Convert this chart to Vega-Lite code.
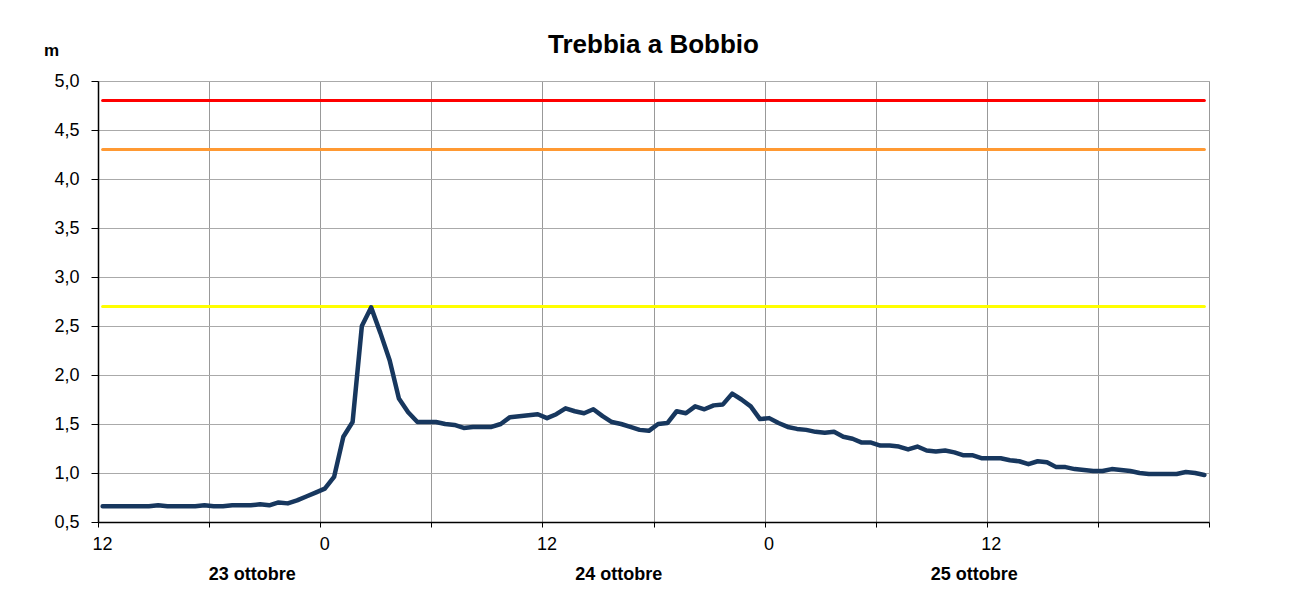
{
  "$schema": "https://vega.github.io/schema/vega-lite/v6.json",
  "width": 1111,
  "height": 441,
  "autosize": {"type": "none"},
  "padding": {"left": 98, "top": 81, "right": 83, "bottom": 70},
  "background": "white",
  "title": {
    "text": "Trebbia a Bobbio",
    "font": "Liberation Sans",
    "fontSize": 26,
    "fontWeight": "bold",
    "color": "#000000",
    "anchor": "middle",
    "offset": 4,
    "dy": 21
  },
  "datasets": {
    "livello": [
      {"ore": 0.25, "m": 0.66}, {"ore": 0.75, "m": 0.66}, {"ore": 1.25, "m": 0.66}, {"ore": 1.75, "m": 0.66},
      {"ore": 2.25, "m": 0.66}, {"ore": 2.75, "m": 0.66}, {"ore": 3.25, "m": 0.67}, {"ore": 3.75, "m": 0.66},
      {"ore": 4.25, "m": 0.66}, {"ore": 4.75, "m": 0.66}, {"ore": 5.25, "m": 0.66}, {"ore": 5.75, "m": 0.67},
      {"ore": 6.25, "m": 0.66}, {"ore": 6.75, "m": 0.66}, {"ore": 7.25, "m": 0.67}, {"ore": 7.75, "m": 0.67},
      {"ore": 8.25, "m": 0.67}, {"ore": 8.75, "m": 0.68}, {"ore": 9.25, "m": 0.67}, {"ore": 9.75, "m": 0.70},
      {"ore": 10.25, "m": 0.69}, {"ore": 10.75, "m": 0.72}, {"ore": 11.25, "m": 0.76}, {"ore": 11.75, "m": 0.80},
      {"ore": 12.25, "m": 0.84}, {"ore": 12.75, "m": 0.96}, {"ore": 13.25, "m": 1.37}, {"ore": 13.75, "m": 1.52},
      {"ore": 14.25, "m": 2.50}, {"ore": 14.75, "m": 2.69}, {"ore": 15.25, "m": 2.43}, {"ore": 15.75, "m": 2.15},
      {"ore": 16.25, "m": 1.76}, {"ore": 16.75, "m": 1.62}, {"ore": 17.25, "m": 1.52}, {"ore": 17.75, "m": 1.52},
      {"ore": 18.25, "m": 1.52}, {"ore": 18.75, "m": 1.50}, {"ore": 19.25, "m": 1.49}, {"ore": 19.75, "m": 1.46},
      {"ore": 20.25, "m": 1.47}, {"ore": 20.75, "m": 1.47}, {"ore": 21.25, "m": 1.47}, {"ore": 21.75, "m": 1.50},
      {"ore": 22.25, "m": 1.57}, {"ore": 22.75, "m": 1.58}, {"ore": 23.25, "m": 1.59}, {"ore": 23.75, "m": 1.60},
      {"ore": 24.25, "m": 1.56}, {"ore": 24.75, "m": 1.60}, {"ore": 25.25, "m": 1.66}, {"ore": 25.75, "m": 1.63},
      {"ore": 26.25, "m": 1.61}, {"ore": 26.75, "m": 1.65}, {"ore": 27.25, "m": 1.58}, {"ore": 27.75, "m": 1.52},
      {"ore": 28.25, "m": 1.50}, {"ore": 28.75, "m": 1.47}, {"ore": 29.25, "m": 1.44}, {"ore": 29.75, "m": 1.43},
      {"ore": 30.25, "m": 1.50}, {"ore": 30.75, "m": 1.51}, {"ore": 31.25, "m": 1.63}, {"ore": 31.75, "m": 1.61},
      {"ore": 32.25, "m": 1.68}, {"ore": 32.75, "m": 1.65}, {"ore": 33.25, "m": 1.69}, {"ore": 33.75, "m": 1.70},
      {"ore": 34.25, "m": 1.81}, {"ore": 34.75, "m": 1.75}, {"ore": 35.25, "m": 1.68}, {"ore": 35.75, "m": 1.55},
      {"ore": 36.25, "m": 1.56}, {"ore": 36.75, "m": 1.51}, {"ore": 37.25, "m": 1.47}, {"ore": 37.75, "m": 1.45},
      {"ore": 38.25, "m": 1.44}, {"ore": 38.75, "m": 1.42}, {"ore": 39.25, "m": 1.41}, {"ore": 39.75, "m": 1.42},
      {"ore": 40.25, "m": 1.37}, {"ore": 40.75, "m": 1.35}, {"ore": 41.25, "m": 1.31}, {"ore": 41.75, "m": 1.31},
      {"ore": 42.25, "m": 1.28}, {"ore": 42.75, "m": 1.28}, {"ore": 43.25, "m": 1.27}, {"ore": 43.75, "m": 1.24},
      {"ore": 44.25, "m": 1.27}, {"ore": 44.75, "m": 1.23}, {"ore": 45.25, "m": 1.22}, {"ore": 45.75, "m": 1.23},
      {"ore": 46.25, "m": 1.21}, {"ore": 46.75, "m": 1.18}, {"ore": 47.25, "m": 1.18}, {"ore": 47.75, "m": 1.15},
      {"ore": 48.25, "m": 1.15}, {"ore": 48.75, "m": 1.15}, {"ore": 49.25, "m": 1.13}, {"ore": 49.75, "m": 1.12},
      {"ore": 50.25, "m": 1.09}, {"ore": 50.75, "m": 1.12}, {"ore": 51.25, "m": 1.11}, {"ore": 51.75, "m": 1.06},
      {"ore": 52.25, "m": 1.06}, {"ore": 52.75, "m": 1.04}, {"ore": 53.25, "m": 1.03}, {"ore": 53.75, "m": 1.02},
      {"ore": 54.25, "m": 1.02}, {"ore": 54.75, "m": 1.04}, {"ore": 55.25, "m": 1.03}, {"ore": 55.75, "m": 1.02},
      {"ore": 56.25, "m": 1.00}, {"ore": 56.75, "m": 0.99}, {"ore": 57.25, "m": 0.99}, {"ore": 57.75, "m": 0.99},
      {"ore": 58.25, "m": 0.99}, {"ore": 58.75, "m": 1.01}, {"ore": 59.25, "m": 1.00}, {"ore": 59.75, "m": 0.98}
    ],
    "soglie": [
      {"soglia": "soglia 3", "ore": 0.25, "m": 4.8}, {"soglia": "soglia 3", "ore": 59.75, "m": 4.8},
      {"soglia": "soglia 2", "ore": 0.25, "m": 4.3}, {"soglia": "soglia 2", "ore": 59.75, "m": 4.3},
      {"soglia": "soglia 1", "ore": 0.25, "m": 2.7}, {"soglia": "soglia 1", "ore": 59.75, "m": 2.7}
    ]
  },
  "layer": [
    {
      "data": {"name": "soglie"},
      "mark": {"type": "line", "strokeWidth": 3, "strokeCap": "round"},
      "encoding": {
        "x": {
          "field": "ore", "type": "quantitative",
          "scale": {"domain": [0, 60], "nice": false, "zero": false},
          "axis": {
            "orient": "bottom",
            "title": null,
            "values": [8.3, 28.1, 47.3],
            "labelExpr": "datum.value < 15 ? '23 ottobre' : (datum.value < 40 ? '24 ottobre' : '25 ottobre')",
            "ticks": false,
            "domain": false,
            "grid": false,
            "labelFontSize": 18,
            "labelFontWeight": "bold",
            "labelColor": "#000000",
            "labelPadding": 43,
            "labelFlush": false,
            "labelOverlap": false
          }
        },
        "y": {
          "field": "m", "type": "quantitative",
          "scale": {"domain": [0.5, 5], "nice": false, "zero": false}
        },
        "color": {
          "field": "soglia", "type": "nominal",
          "scale": {"domain": ["soglia 1", "soglia 2", "soglia 3"], "range": ["#FFFF00", "#FF9933", "#FF0000"]},
          "legend": null
        },
        "detail": {"field": "soglia"}
      }
    },
    {
      "data": {"name": "livello"},
      "mark": {"type": "line", "color": "#17375E", "strokeWidth": 4.5, "strokeJoin": "round", "strokeCap": "round"},
      "encoding": {
        "x": {
          "field": "ore", "type": "quantitative",
          "scale": {"domain": [0, 60], "nice": false, "zero": false},
          "axis": {
            "orient": "bottom",
            "title": null,
            "values": [0, 6, 12, 18, 24, 30, 36, 42, 48, 54, 60],
            "labelExpr": "(datum.value % 12 == 0 && datum.value < 60) ? '' + ((datum.value + 12) % 24) : ''",
            "grid": true,
            "gridColor": "#999999",
            "gridWidth": 1,
            "domainColor": "#000000",
            "domainWidth": 1.5,
            "tickColor": "#000000",
            "tickSize": 5,
            "tickWidth": 1,
            "labelFontSize": 18,
            "labelColor": "#000000",
            "labelPadding": 8,
            "labelOffset": 4,
            "labelFlush": false,
            "labelOverlap": false
          }
        },
        "y": {
          "field": "m", "type": "quantitative",
          "scale": {"domain": [0.5, 5], "nice": false, "zero": false},
          "axis": {
            "title": "m",
            "titleAngle": 0,
            "titleFontSize": 17,
            "titleFontWeight": "bold",
            "titleColor": "#000000",
            "titleAlign": "center",
            "titleBaseline": "alphabetic",
            "titleX": -47,
            "titleY": -26,
            "values": [0.5, 1, 1.5, 2, 2.5, 3, 3.5, 4, 4.5, 5],
            "labelExpr": "replace(format(datum.value, '.1f'), '.', ',')",
            "grid": true,
            "gridColor": "#aaaaaa",
            "gridWidth": 1,
            "domainColor": "#000000",
            "domainWidth": 1.5,
            "tickColor": "#000000",
            "tickSize": 7,
            "tickWidth": 1,
            "labelFontSize": 18,
            "labelColor": "#000000",
            "labelPadding": 12,
            "labelOverlap": false
          }
        }
      }
    }
  ],
  "resolve": {"axis": {"x": "independent"}},
  "config": {
    "font": "Liberation Sans",
    "view": {"stroke": "#b3b3b3", "strokeWidth": 1}
  }
}
